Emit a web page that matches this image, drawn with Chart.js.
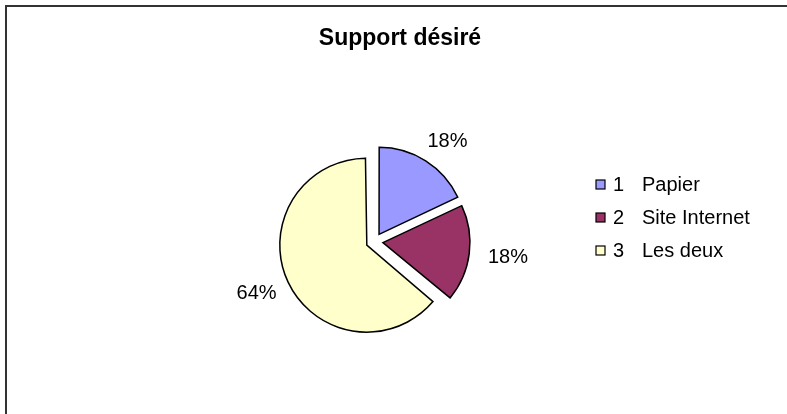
<!DOCTYPE html>
<html>
<head>
<meta charset="utf-8">
<script src="https://cdn.jsdelivr.net/npm/chart.js@4"></script>
<style>
  html, body { margin: 0; padding: 0; background: #fff; overflow: hidden; }
  canvas { display: block; }
</style>
</head>
<body>
<canvas id="myChart" width="787" height="414"></canvas>
<script>
let chartTitle = 'Support désiré'
let codes = ['1', '2', '3']
let labels = ['Papier', 'Site Internet', 'Les deux']
let values = [18, 18, 64]
let colors = ['#9999ff', '#993366', '#ffffcc']

const fontFamily = '"Liberation Sans", Arial, sans-serif'

// white background, frame lines and the title
let framePlugin = {
    id: 'frame',
    beforeDraw(chart) {
        let ctx = chart.ctx
        ctx.save()
        ctx.fillStyle = '#fff'
        ctx.fillRect(0, 0, chart.width, chart.height)
        ctx.strokeStyle = '#333'
        ctx.lineWidth = 2
        ctx.beginPath()
        ctx.moveTo(6, chart.height + 5)
        ctx.lineTo(6, 6)
        ctx.lineTo(chart.width + 5, 6)
        ctx.stroke()
        ctx.restore()
    },
    afterDraw(chart) {
        let ctx = chart.ctx
        ctx.save()
        ctx.fillStyle = '#000'
        ctx.font = 'bold 23px ' + fontFamily
        ctx.textAlign = 'center'
        ctx.textBaseline = 'alphabetic'
        ctx.fillText(chartTitle, 400, 45)
        ctx.restore()
    }
}

// chart.js grows big exploded slices by their offset; keep every slice at the same radius
let explodePlugin = {
    id: 'explode',
    beforeDatasetDraw(chart, args) {
        args.meta.data.forEach(arc => {
            let off = (arc.options.offset || 0) / 4
            let fix = 1 - Math.sin(Math.min(Math.PI, arc.circumference))
            arc.savedRadius = arc.outerRadius
            arc.outerRadius = arc.outerRadius - off * fix
        })
    },
    afterDatasetDraw(chart, args) {
        args.meta.data.forEach(arc => {
            arc.outerRadius = arc.savedRadius
        })
    }
}

// percentages outside each slice
let percentPlugin = {
    id: 'percents',
    afterDatasetsDraw(chart) {
        let ctx = chart.ctx
        let meta = chart.getDatasetMeta(0)
        let data = chart.data.datasets[0].data
        let total = data.reduce((a, b) => a + b, 0)
        ctx.save()
        ctx.font = '20px ' + fontFamily
        ctx.fillStyle = '#000'
        ctx.textAlign = 'center'
        ctx.textBaseline = 'middle'
        meta.data.forEach((arc, i) => {
            let p = arc.getProps(['x', 'y', 'startAngle', 'endAngle', 'outerRadius'], true)
            let off = (arc.options.offset || 0) / 4
            let mid = (p.startAngle + p.endAngle) / 2
            let c = Math.cos(mid), s = Math.sin(mid)
            let text = Math.round(data[i] / total * 100) + '%'
            let w = ctx.measureText(text).width
            let h = 15
            let d = off + p.outerRadius + 17
            let x = p.x + c * d + c * w / 2
            let y = p.y + s * d + s * h / 2
            ctx.fillText(text, x + 2, y + 1)
        })
        ctx.restore()
    }
}

// legend on the right: square, code, label
let legendPlugin = {
    id: 'sideLegend',
    afterDraw(chart) {
        let ctx = chart.ctx
        let bg = chart.data.datasets[0].backgroundColor
        ctx.save()
        ctx.font = '20px ' + fontFamily
        ctx.textBaseline = 'alphabetic'
        ctx.textAlign = 'left'
        chart.data.labels.forEach((name, i) => {
            let base = 191 + i * 33
            ctx.fillStyle = bg[i]
            ctx.fillRect(596, base - 11, 9, 9)
            ctx.strokeStyle = '#000'
            ctx.lineWidth = 1.2
            ctx.strokeRect(596, base - 11, 9, 9)
            ctx.fillStyle = '#000'
            ctx.fillText(codes[i], 613, base)
            ctx.fillText(name, 642, base)
        })
        ctx.restore()
    }
}

let canvas = document.getElementById('myChart')
let ctx = canvas.getContext('2d')

let myPieChart = new Chart(ctx, {
    type: 'pie',
    data: {
        labels: labels,
        datasets: [{
            data: values,
            backgroundColor: colors,
            borderColor: '#000',
            borderWidth: 1.5,
            borderJoinStyle: 'miter',
            offset: 34
        }]
    },
    options: {
        responsive: false,
        animation: false,
        radius: 87,
        layout: {
            padding: { left: 0, right: 38, top: 69, bottom: 0 }
        },
        plugins: {
            legend: { display: false },
            title: { display: false },
            tooltip: { enabled: false }
        }
    },
    plugins: [framePlugin, explodePlugin, percentPlugin, legendPlugin]
})
</script>
</body>
</html>
